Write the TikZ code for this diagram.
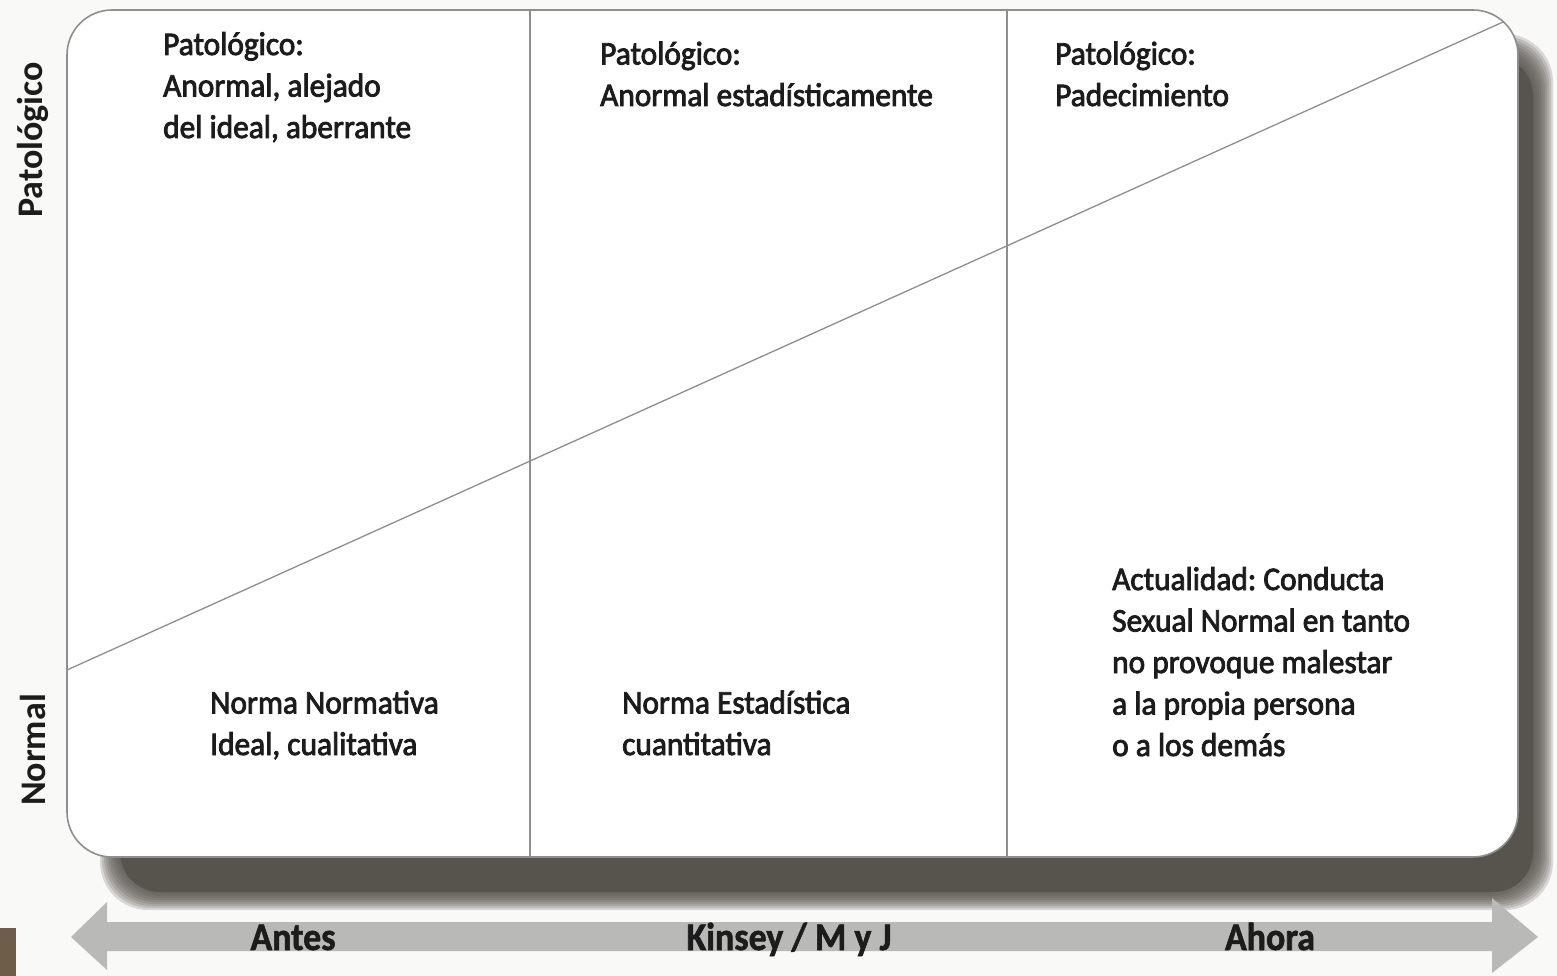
\documentclass[tikz,border=0pt]{standalone}
\usepackage{fontspec}
\setmainfont{Carlito}
\frenchspacing
\newfontfamily\semib[FakeBold=2.5,FakeStretch=0.95]{Carlito}
\newfontfamily\heavyb[FakeBold=1.5,FakeStretch=0.92]{Carlito Bold}
\definecolor{bgc}{HTML}{F9F9F8}
\definecolor{shadowc}{HTML}{57534D}
\definecolor{linec}{HTML}{8E8E8E}
\definecolor{arrowc}{HTML}{B9B9B7}
\definecolor{txtc}{HTML}{1C1C1C}
\definecolor{brownc}{HTML}{6E5D48}
\tikzset{
  celltext/.style={anchor=base west, inner sep=0pt, align=left, text=txtc,
    font=\semib\fontsize{33}{41.5}\selectfont},
  sidelabel/.style={rotate=90, inner sep=0pt, text=txtc,
    font=\bfseries\fontsize{36}{40}\selectfont},
  arrowlabel/.style={anchor=base, inner sep=0pt, text=txtc,
    font=\heavyb\fontsize{39}{44}\selectfont},
  divider/.style={draw=linec, line width=1.4pt},
}
\begin{document}
\begin{tikzpicture}[x=1pt,y=-1pt]
\useasboundingbox (0,0) rectangle (1557,976);
\fill[bgc] (0,0) rectangle (1557,976);
% soft shadow
\foreach \k in {0,...,9}{
  \fill[shadowc, opacity=0.2, rounded corners=48pt]
    (100+2*\k,34+2*\k) rectangle (1553-2*\k,910-2*\k);
}
\fill[shadowc, rounded corners=40pt] (120,56) rectangle (1533,892);
% main box
\node[draw=linec, fill=white, line width=1.6pt, rounded corners=45pt,
      minimum width=1451pt, minimum height=847pt, inner sep=0pt]
      (box) at (792.5,433.5) {};
\coordinate (d1t) at (530,10);  \coordinate (d1b) at (530,857);
\coordinate (d2t) at (1007,10); \coordinate (d2b) at (1007,857);
\draw[divider] (d1t) -- (d1b);
\draw[divider] (d2t) -- (d2b);
\coordinate (diagA) at (67,670);
\coordinate (diagB) at (1503,22);
\draw[draw=linec, line width=1.3pt] (diagA) -- (diagB);
% cell texts (base = baseline of last line)
\node[celltext] (p1) at (163,138) {Patológico:\\Anormal, alejado\\del ideal, aberrante};
\node[celltext] (p2) at (600,106) {Patológico:\\Anormal estadísticamente};
\node[celltext] (p3) at (1055,106) {Patológico:\\Padecimiento};
\node[celltext] (n1) at (210,755) {Norma Normativa\\Ideal, cualitativa};
\node[celltext] (n2) at (622,755) {Norma Estadística\\cuantitativa};
\node[celltext] (n3) at (1112,756) {Actualidad: Conducta\\Sexual Normal en tanto\\no provoque malestar\\a la propia persona\\o a los demás};
% side labels
\node[sidelabel] (lp) at (33,140) {Patológico};
\node[sidelabel] (ln) at (33,750) {Normal};
% time arrow
\fill[arrowc] (71,937) -- (107,902) -- (107,922) -- (1492,922) -- (1492,898)
  -- (1538,937) -- (1492,973) -- (1492,951) -- (107,951) -- (107,970) -- cycle;
\node[arrowlabel] (a1) at (293,950) {Antes};
\node[arrowlabel] (a2) at (789,950) {Kinsey / M y J};
\node[arrowlabel] (a3) at (1270,950) {Ahora};
% corner mark
\fill[brownc] (0,928) rectangle (16,976);
\end{tikzpicture}
\end{document}
